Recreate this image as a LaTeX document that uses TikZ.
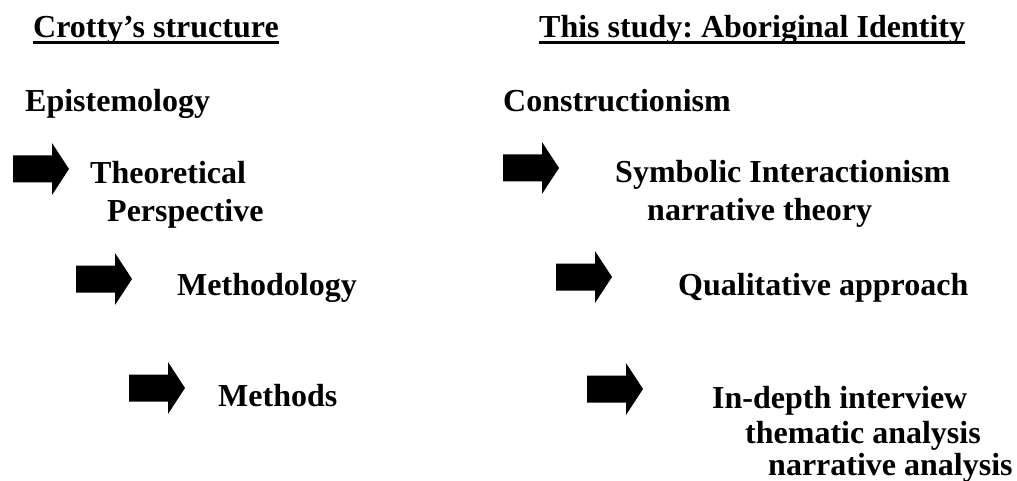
\documentclass[tikz,border=0pt]{standalone}
\usepackage{fontspec}
\setmainfont{Liberation Serif}
\frenchspacing
\begin{document}
\begin{tikzpicture}[x=1pt,y=-1pt,
  lbl/.style={anchor=base west,inner sep=0pt,font=\fontsize{32}{38}\selectfont\bfseries},
  uline/.style={line width=3.5pt},
  blockarrow/.pic={\fill[black] (0,-13.5) -- (39,-13.5) -- (39,-26) -- (56,0) -- (39,26) -- (39,13.5) -- (0,13.5) -- cycle;}]
\useasboundingbox (0,0) rectangle (1017,481);
% titles
\node[lbl] (t1) at (33,38) {Crotty’s structure};
\node[lbl] (t2) at (539,38) {This study: Aboriginal Identity};
\draw[uline] ([yshift=-4.5pt]t1.base west) -- ([yshift=-4.5pt]t1.base east);
\draw[uline] ([yshift=-4.5pt]t2.base west) -- ([yshift=-4.5pt]t2.base east);
% left column
\node[lbl] (l1) at (25,112) {Epistemology};
\node[lbl] (l2a) at (90,184) {Theoretical};
\node[lbl] (l2b) at (107,222) {Perspective};
\node[lbl] (l3) at (177,295) {Methodology};
\node[lbl] (l4) at (218,406) {Methods};
% right column
\node[lbl] (r1) at (503,112) {Constructionism};
\node[lbl] (r2a) at (615,183) {Symbolic Interactionism};
\node[lbl] (r2b) at (647,220) {narrative theory};
\node[lbl] (r3) at (678,295) {Qualitative approach};
\node[lbl] (r4a) at (712,408) {In-depth interview};
\node[lbl] (r4b) at (745,443) {thematic analysis};
\node[lbl] (r4c) at (768,475) {narrative analysis};
% block arrows
\pic at (13,169) {blockarrow};
\pic at (76,279) {blockarrow};
\pic at (129,388) {blockarrow};
\pic at (503,168) {blockarrow};
\pic at (556,277) {blockarrow};
\pic at (587,389) {blockarrow};
\end{tikzpicture}
\end{document}
